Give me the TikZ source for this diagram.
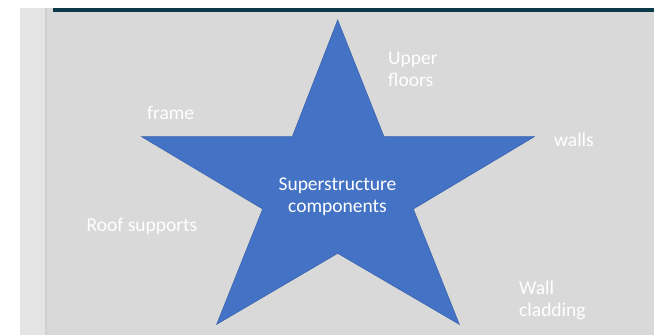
\documentclass[tikz,border=0pt]{standalone}
\usepackage{fontspec}
\setmainfont{Carlito}
\definecolor{panel}{HTML}{D9D9D9}
\definecolor{sidestrip}{HTML}{E4E4E4}
\definecolor{sideline}{HTML}{D0D0D0}
\definecolor{topbar}{HTML}{0D3A49}
\definecolor{starfill}{HTML}{4472C4}
\definecolor{staredge}{HTML}{3A64B0}
\tikzset{
  label/.style={text=white, inner sep=0pt, anchor=base west, align=left,
    font=\fontsize{19.5}{22.5}\selectfont},
  centrelabel/.style={text=white, inner sep=0pt, anchor=base, align=center,
    font=\fontsize{19.5}{22.5}\selectfont},
  starshape/.style={fill=starfill, draw=staredge, line width=0.6pt, line join=miter}
}
\begin{document}
\begin{tikzpicture}[x=1pt,y=-1pt]
  \useasboundingbox (0,0) rectangle (659,335);
  \fill[white] (0,0) rectangle (659,335);
  % slide panel with side strip and header bar
  \fill[sidestrip] (20,8) rectangle (45,335);
  \fill[sideline] (45,8) rectangle (46.5,335);
  \fill[panel] (46.5,8) rectangle (653.5,335);
  \fill[topbar] (52.5,8) rectangle (653.5,12.3);
  % five-pointed star
  \draw[starshape] (337.7,20) -- (384,136.7) -- (534.3,136.7) -- (413.3,209)
    -- (459.3,324.3) -- (337.7,253.3) -- (216.7,324.3) -- (262.7,209)
    -- (141.7,136.7) -- (292.3,136.7) -- cycle;
  % multi-line labels are anchored on the baseline of their last line
  \node[centrelabel] (centre) at (337.5,212.5) {Superstructure\\components};
  \node[label] (upper) at (388,86.5) {Upper\\floors};
  \node[label] (frame) at (147,119) {frame};
  \node[label] (walls) at (554,146) {walls};
  \node[label] (roof) at (86.5,231.5) {Roof supports};
  \node[label] (cladding) at (519,316.5) {Wall\\cladding};
\end{tikzpicture}
\end{document}
